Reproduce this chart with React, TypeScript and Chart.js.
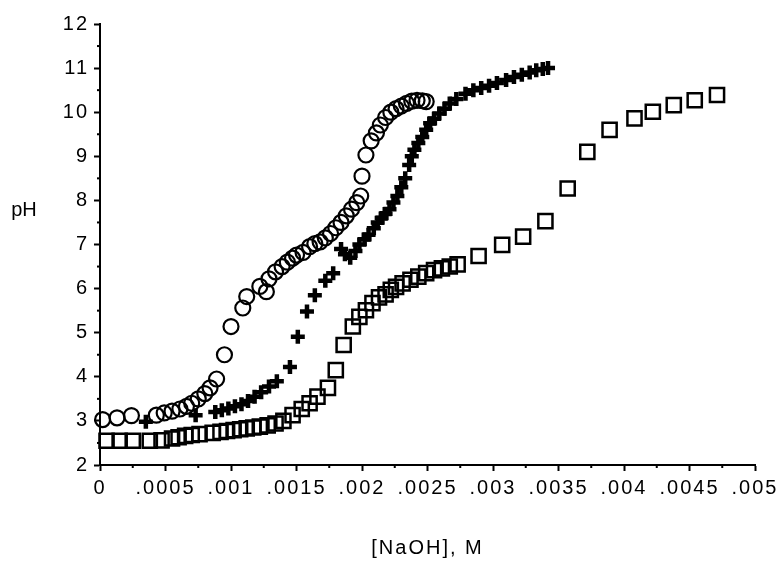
import React, { useEffect, useRef } from "react";
import { Chart, registerables } from "chart.js";

Chart.register(...registerables);

const X_TITLE = "[NaOH], M";
const Y_TITLE = "pH";
const X_MIN = 0;
const X_MAX = 0.005;
const X_STEP = 0.0005;
const Y_MIN = 2;
const Y_MAX = 12;
const Y_STEP = 1;

const circleX = [0.00002, 0.00013, 0.00024, 0.00043, 0.00049, 0.00055, 0.00061, 0.00066, 0.0007, 0.00075, 0.0008, 0.00084, 0.00089, 0.00095, 0.001, 0.00109, 0.00112, 0.00122, 0.00127, 0.00129, 0.00134, 0.00139, 0.00143, 0.00147, 0.0015, 0.00155, 0.0016, 0.00164, 0.00168, 0.00172, 0.00176, 0.0018, 0.00184, 0.00188, 0.00192, 0.00196, 0.00199, 0.002, 0.00203, 0.00207, 0.00211, 0.00214, 0.00218, 0.00222, 0.00226, 0.0023, 0.00234, 0.00238, 0.00242, 0.00246, 0.00249];
const circleY = [3.03, 3.07, 3.12, 3.13, 3.18, 3.22, 3.27, 3.33, 3.4, 3.5, 3.62, 3.75, 3.95, 4.5, 5.14, 5.56, 5.82, 6.05, 5.93, 6.22, 6.38, 6.5, 6.6, 6.69, 6.76, 6.82, 6.95, 7.02, 7.06, 7.15, 7.25, 7.38, 7.5, 7.65, 7.8, 7.95, 8.1, 8.55, 9.03, 9.35, 9.53, 9.71, 9.88, 10.0, 10.08, 10.14, 10.2, 10.25, 10.27, 10.26, 10.24];

const plusX = [0.00035, 0.00073, 0.00088, 0.00093, 0.00098, 0.00103, 0.00108, 0.00113, 0.00118, 0.00123, 0.00129, 0.00135, 0.00145, 0.00151, 0.00158, 0.00164, 0.00172, 0.00178, 0.00184, 0.00187, 0.00191, 0.00195, 0.00198, 0.00202, 0.00205, 0.00209, 0.00212, 0.00215, 0.00218, 0.00221, 0.00224, 0.00227, 0.0023, 0.00233, 0.00236, 0.00238, 0.0024, 0.00243, 0.00246, 0.00249, 0.00252, 0.00255, 0.00259, 0.00263, 0.00267, 0.00272, 0.00279, 0.00285, 0.00291, 0.00297, 0.00303, 0.0031, 0.00316, 0.00322, 0.00328, 0.00333, 0.00338, 0.00342];
const plusY = [2.98, 3.13, 3.2, 3.24, 3.28, 3.33, 3.38, 3.45, 3.55, 3.65, 3.78, 3.9, 4.22, 4.91, 5.48, 5.85, 6.18, 6.35, 6.9, 6.78, 6.7, 6.85, 7.0, 7.12, 7.22, 7.37, 7.5, 7.6, 7.7, 7.8, 7.95, 8.1, 8.3, 8.5, 8.8, 9.0, 9.15, 9.3, 9.44, 9.6, 9.75, 9.85, 9.97, 10.08, 10.2, 10.3, 10.42, 10.5, 10.55, 10.6, 10.66, 10.73, 10.8, 10.85, 10.9, 10.95, 10.98, 11.0];

const squareX = [0.00005, 0.00015, 0.00025, 0.00038, 0.00047, 0.00055, 0.0006, 0.00065, 0.0007, 0.00076, 0.00086, 0.00092, 0.00097, 0.00102, 0.00107, 0.00112, 0.00117, 0.00122, 0.00128, 0.00134, 0.0014, 0.00147, 0.00154, 0.0016, 0.00166, 0.00174, 0.0018, 0.00186, 0.00193, 0.00198, 0.00203, 0.00208, 0.00213, 0.00218, 0.00222, 0.00226, 0.00231, 0.00237, 0.00243, 0.00249, 0.00255, 0.00261, 0.00267, 0.00273, 0.00289, 0.00307, 0.00323, 0.0034, 0.00357, 0.00372, 0.00389, 0.00408, 0.00422, 0.00438, 0.00454, 0.00471];
const squareY = [2.55, 2.55, 2.55, 2.55, 2.56, 2.6, 2.63, 2.66, 2.68, 2.7, 2.73, 2.75, 2.77, 2.79, 2.81, 2.83, 2.85, 2.87, 2.9, 2.94, 3.0, 3.13, 3.27, 3.4, 3.55, 3.75, 4.15, 4.72, 5.14, 5.36, 5.51, 5.67, 5.8, 5.87, 5.97, 6.04, 6.12, 6.2, 6.27, 6.35, 6.42, 6.46, 6.5, 6.55, 6.74, 6.99, 7.18, 7.53, 8.27, 9.1, 9.6, 9.86, 10.01, 10.16, 10.27, 10.39];

const pts = (xs: number[], ys: number[]) => xs.map((x, i) => ({ x, y: ys[i] }));

const FONT = '"Liberation Sans", Arial, Helvetica, sans-serif';
const FONT_SIZE = 20;

const axisExtras = {
  id: "axisExtras",
  beforeDraw(chart: any) {
    chart.ctx.letterSpacing = "2px";
  },
  afterDraw(chart: any) {
    const { ctx, chartArea } = chart;
    const xs = chart.scales.x;
    const ys = chart.scales.y;
    ctx.save();
    ctx.strokeStyle = "#000";
    ctx.lineWidth = 2;
    for (let v = Y_MIN + Y_STEP / 2; v < Y_MAX; v += Y_STEP) {
      const py = ys.getPixelForValue(v);
      ctx.beginPath();
      ctx.moveTo(chartArea.left - 3, py);
      ctx.lineTo(chartArea.left, py);
      ctx.stroke();
    }
    for (let k = 0; k < Math.round((X_MAX - X_MIN) / X_STEP); k++) {
      const v = X_MIN + X_STEP * (k + 0.5);
      const px = xs.getPixelForValue(v);
      ctx.beginPath();
      ctx.moveTo(px, chartArea.bottom);
      ctx.lineTo(px, chartArea.bottom + 3);
      ctx.stroke();
    }
    ctx.letterSpacing = "0px";
    ctx.font = `${FONT_SIZE}px ${FONT}`;
    ctx.fillStyle = "#000";
    ctx.textAlign = "center";
    ctx.textBaseline = "middle";
    ctx.fillText(Y_TITLE, 24, 210);
    ctx.restore();
    ctx.letterSpacing = "0px";
  },
};

export default function App() {
  const ref = useRef<HTMLCanvasElement | null>(null);
  useEffect(() => {
    if (!ref.current) return;
    const black = "#000";
    const chart = new Chart(ref.current, {
      type: "scatter",
      data: {
        datasets: [
          {
            label: "circles",
            data: pts(circleX, circleY),
            pointStyle: "circle",
            pointRadius: 7.5,
            borderWidth: 2.2,
            borderColor: black,
            backgroundColor: "rgba(0,0,0,0)",
            clip: false,
          },
          {
            label: "crosses",
            data: pts(plusX, plusY),
            pointStyle: "cross",
            pointRadius: 7,
            borderWidth: 4.5,
            borderColor: black,
            backgroundColor: black,
            clip: false,
          },
          {
            label: "squares",
            data: pts(squareX, squareY),
            pointStyle: "rect",
            pointRadius: 10,
            borderWidth: 2.5,
            borderColor: black,
            backgroundColor: "rgba(0,0,0,0)",
            clip: false,
          },
        ] as any,
      },
      options: {
        animation: false,
        responsive: true,
        maintainAspectRatio: false,
        layout: { padding: { top: 24, right: 25, left: 0, bottom: 0 } },
        plugins: { legend: { display: false }, tooltip: { enabled: false } },
        scales: {
          x: {
            type: "linear",
            min: X_MIN,
            max: X_MAX,
            afterFit: (s: any) => {
              s.height = 100;
            },
            ticks: {
              stepSize: X_STEP,
              color: black,
              font: { family: FONT, size: FONT_SIZE },
              padding: 5,
              maxRotation: 0,
              autoSkip: false,
              callback: (v: any) => {
                const r = Math.round(Number(v) * 100000) / 100000;
                return r === 0 ? "0" : String(r).replace(/^0\./, ".");
              },
            },
            grid: { drawOnChartArea: false, drawTicks: true, tickLength: 6, tickWidth: 2, color: black },
            border: { display: true, color: black, width: 2 },
            title: { display: true, text: X_TITLE, color: black, font: { family: FONT, size: FONT_SIZE }, padding: { top: 4, bottom: 5 } },
          },
          y: {
            type: "linear",
            min: Y_MIN,
            max: Y_MAX,
            afterFit: (s: any) => {
              s.width = 100;
            },
            ticks: {
              stepSize: Y_STEP,
              color: black,
              font: { family: FONT, size: FONT_SIZE },
              padding: 5,
              autoSkip: false,
            },
            grid: { drawOnChartArea: false, drawTicks: true, tickLength: 6, tickWidth: 2, color: black },
            border: { display: true, color: black, width: 2 },
            title: { display: false },
          },
        },
      } as any,
      plugins: [axisExtras],
    });
    return () => chart.destroy();
  }, []);
  return (
    <div style={{ position: "absolute", left: 0, top: 0, width: 780, height: 565, background: "#fff" }}>
      <canvas ref={ref} />
    </div>
  );
}
